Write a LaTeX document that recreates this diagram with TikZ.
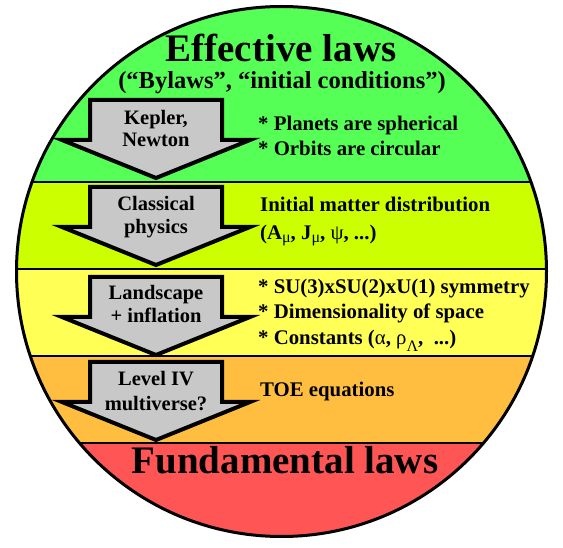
\documentclass[tikz,border=0pt]{standalone}
\usepackage{fontspec}
\setmainfont{Liberation Serif}
\definecolor{cgreen}{RGB}{85,255,85}
\definecolor{clime}{RGB}{204,255,0}
\definecolor{cyellow}{RGB}{255,255,85}
\definecolor{corange}{RGB}{255,190,64}
\definecolor{cred}{RGB}{255,85,85}
\definecolor{arrowgray}{RGB}{200,200,200}
\newcommand\lowsub[2]{\raisebox{#1}{\fontsize{16}{16}\selectfont\mdseries #2}}
\newcommand\gr[1]{{\mdseries #1}}
\begin{document}
\begin{tikzpicture}[x=1pt,y=-1pt,
  headline/.style={font=\bfseries\fontsize{39}{41}\selectfont, inner sep=0pt, anchor=base},
  subline/.style={font=\bfseries\fontsize{24.5}{27}\selectfont, inner sep=0pt, anchor=base},
  body/.style={font=\bfseries\fontsize{20.8}{24}\selectfont, inner sep=0pt, anchor=base west},
  arrtext/.style={font=\bfseries\fontsize{20.5}{24}\selectfont, inner sep=0pt, anchor=base},
  bigarrow/.style={draw=black, line width=4pt, fill=arrowgray, line join=miter, miter limit=10},
  bandline/.style={line width=2pt, draw=black},
  bigdown/.pic={\draw[bigarrow] (-66,0) -- (66,0) -- (66,40) -- (94,40) -- (0,78) -- (-94,40) -- (-66,40) -- cycle;}
]
\useasboundingbox (0,0) rectangle (563,548);
\coordinate (c) at (281.5,271.5);
\begin{scope}
  \clip (c) circle (265);
  \fill[cgreen]  (0,0)   rectangle (563,182);
  \fill[clime]   (0,182) rectangle (563,269);
  \fill[cyellow] (0,269) rectangle (563,356);
  \fill[corange] (0,356) rectangle (563,443);
  \fill[cred]    (0,443) rectangle (563,548);
  \draw[bandline] (0,182) -- (563,182);
  \draw[bandline] (0,269) -- (563,269);
  \draw[bandline] (0,356) -- (563,356);
  \draw[bandline] (0,443) -- (563,443);
\end{scope}
\draw[line width=3pt] (c) circle (265);

% titles
\node[headline] (eff) at (281,62) {Effective laws};
\node[subline] (byl) at (282,89) {(“Bylaws”, “initial conditions”)};
\node[headline] (fund) at (285,473) {Fundamental laws};

% arrows
\pic at (156,100) {bigdown};
\pic at (156,187) {bigdown};
\pic at (156,277) {bigdown};
\pic at (156,362) {bigdown};

\node[arrtext] (a1a) at (156,125) {Kepler,};
\node[arrtext] (a1b) at (156,147) {Newton};
\node[arrtext] (a2a) at (156,211) {Classical};
\node[arrtext] (a2b) at (156,234) {physics};
\node[arrtext] (a3a) at (156,300) {Landscape};
\node[arrtext] (a3b) at (156,323) {+ inflation};
\node[arrtext] (a4a) at (156,386) {Level IV};
\node[arrtext] (a4b) at (156,410) {multiverse?};

% right texts
\node[body] (t1a) at (258,131) {* Planets are spherical};
\node[body] (t1b) at (258,156) {* Orbits are circular};
\node[body] (t2a) at (260,212) {Initial matter distribution};
\node[body] (t2b) at (260,240) {(A\lowsub{-3pt}{μ}, J\lowsub{-3pt}{μ}, \gr{ψ}, ...)};
\node[body] (t3a) at (258,294) {* SU(3)xSU(2)xU(1) symmetry};
\node[body] (t3b) at (258,319) {* Dimensionality of space};
\node[body] (t3c) at (258,345) {* Constants (\gr{α}, \gr{ρ}\lowsub{-6pt}{Λ},\ \ ...)};
\node[body] (t4a) at (260,397) {TOE equations};
\end{tikzpicture}
\end{document}
